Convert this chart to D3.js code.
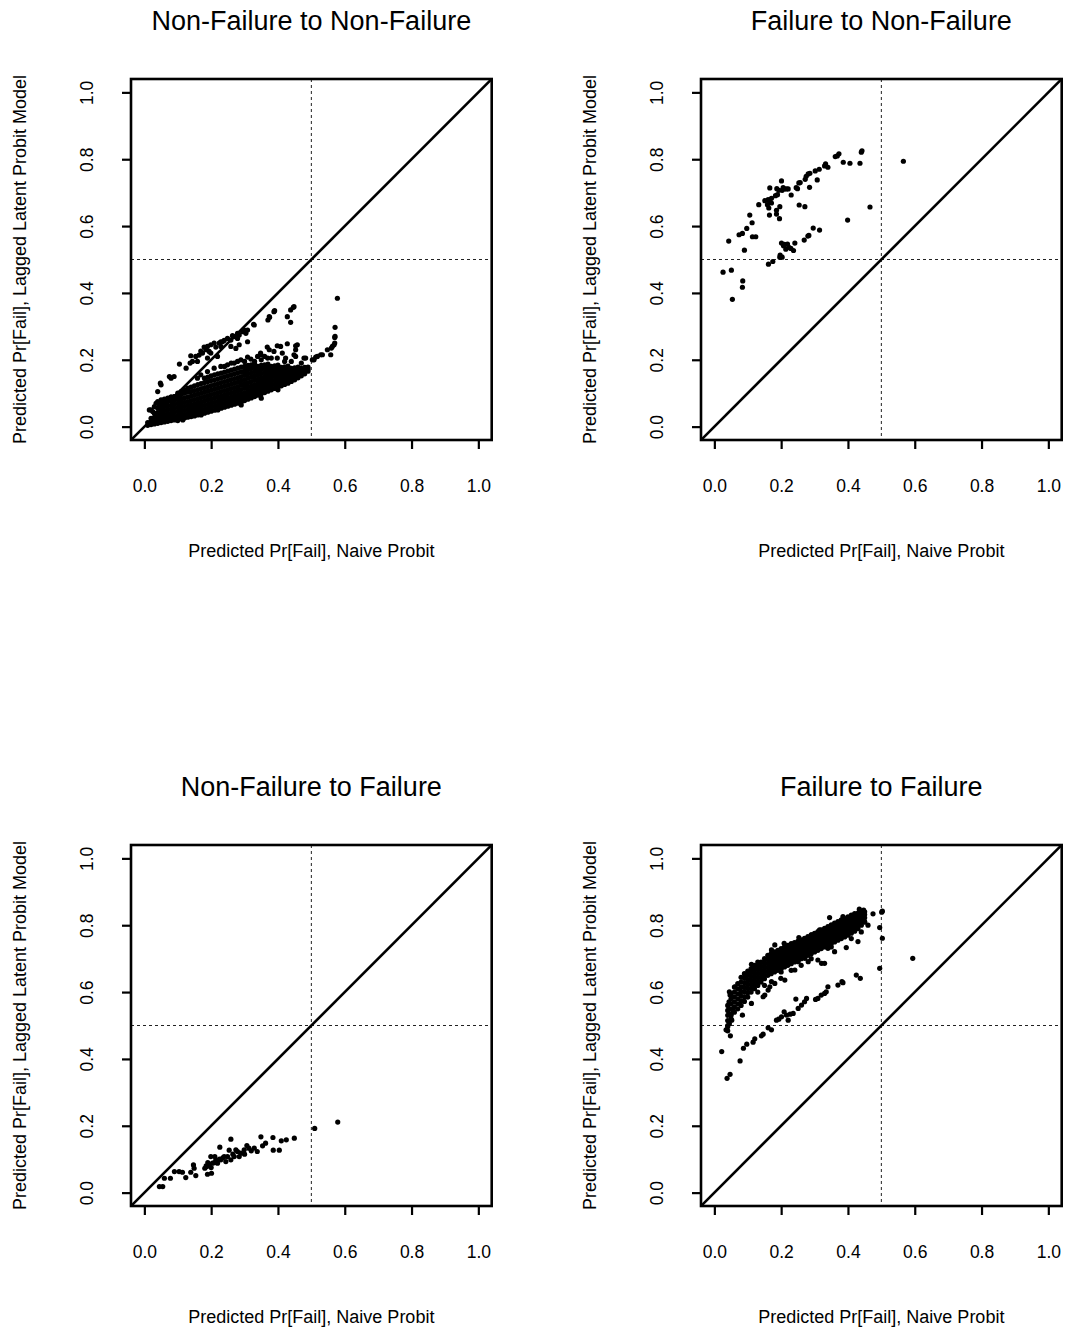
<!DOCTYPE html>
<html><head><meta charset="utf-8">
<script src="https://cdn.jsdelivr.net/npm/d3@7"></script>
<style>body{margin:0;background:#fff} text{font-family:"Liberation Sans", Arial, Helvetica, sans-serif;fill:#000}</style>
</head><body><svg id="c" width="1065" height="1333"></svg>
<script>
// ---------- text ----------
const titles = ["Non-Failure to Non-Failure", "Failure to Non-Failure", "Non-Failure to Failure", "Failure to Failure"];
const tickValues = [0, 0.2, 0.4, 0.6, 0.8, 1.0];
const xLabel = "Predicted Pr[Fail], Naive Probit";
const yLabel = "Predicted Pr[Fail], Lagged Latent Probit Model";
const refLine = 0.5;

// ---------- Panel 1: Non-Failure to Non-Failure ----------
// dense cloud, columns of [naive x, [latent y ...]]
const nfnfCols = [
 [0.01,[0.004,0.012]],
 [0.02,[0.006,0.015,0.025]],
 [0.03,[0.008,0.018,0.028,0.04]],
 [0.04,[0.01,0.02,0.03,0.042,0.055]],
 [0.05,[0.012,0.022,0.033,0.045,0.058,0.068]],
 [0.06,[0.014,0.025,0.036,0.048,0.06,0.072]],
 [0.07,[0.016,0.027,0.038,0.05,0.062,0.075]],
 [0.08,[0.018,0.029,0.04,0.052,0.064,0.077,0.088]],
 [0.09,[0.02,0.031,0.043,0.055,0.067,0.079,0.09]],
 [0.10,[0.022,0.033,0.045,0.057,0.069,0.081,0.093]],
 [0.11,[0.024,0.035,0.047,0.059,0.071,0.083,0.096]],
 [0.12,[0.026,0.037,0.049,0.061,0.073,0.086,0.1]],
 [0.13,[0.028,0.039,0.051,0.063,0.075,0.088,0.103,0.115]],
 [0.14,[0.03,0.041,0.053,0.065,0.078,0.091,0.105,0.118]],
 [0.15,[0.032,0.044,0.056,0.068,0.081,0.094,0.108,0.122]],
 [0.16,[0.035,0.047,0.059,0.071,0.084,0.097,0.111,0.126]],
 [0.17,[0.038,0.05,0.062,0.074,0.087,0.1,0.114,0.129]],
 [0.18,[0.04,0.052,0.064,0.077,0.09,0.103,0.117,0.132,0.145]],
 [0.19,[0.043,0.055,0.067,0.08,0.093,0.106,0.12,0.135,0.148]],
 [0.20,[0.046,0.058,0.07,0.083,0.096,0.109,0.123,0.138,0.152]],
 [0.21,[0.049,0.061,0.073,0.086,0.099,0.112,0.126,0.14,0.155]],
 [0.22,[0.052,0.064,0.076,0.089,0.102,0.115,0.129,0.143,0.158]],
 [0.23,[0.055,0.067,0.079,0.092,0.105,0.118,0.132,0.146,0.16]],
 [0.24,[0.058,0.07,0.082,0.095,0.108,0.121,0.135,0.149,0.163]],
 [0.25,[0.061,0.073,0.085,0.098,0.111,0.124,0.138,0.152,0.166]],
 [0.26,[0.064,0.076,0.088,0.101,0.114,0.127,0.141,0.155,0.169]],
 [0.27,[0.067,0.079,0.091,0.104,0.117,0.13,0.144,0.158,0.172]],
 [0.28,[0.07,0.082,0.094,0.107,0.12,0.133,0.147,0.161,0.175]],
 [0.29,[0.074,0.086,0.098,0.111,0.124,0.137,0.15,0.164,0.178]],
 [0.30,[0.078,0.09,0.102,0.115,0.128,0.141,0.154,0.167,0.18]],
 [0.31,[0.082,0.094,0.106,0.119,0.132,0.145,0.158,0.171,0.183]],
 [0.32,[0.086,0.098,0.11,0.122,0.135,0.148,0.161,0.174,0.185]],
 [0.33,[0.09,0.102,0.114,0.126,0.139,0.152,0.165,0.177,0.188]],
 [0.34,[0.094,0.106,0.118,0.13,0.142,0.155,0.168,0.18]],
 [0.35,[0.098,0.11,0.122,0.134,0.146,0.159,0.171,0.183]],
 [0.36,[0.102,0.114,0.126,0.138,0.15,0.162,0.174,0.185]],
 [0.37,[0.106,0.118,0.13,0.142,0.154,0.166,0.177,0.187]],
 [0.38,[0.11,0.122,0.134,0.146,0.158,0.169,0.18]],
 [0.39,[0.114,0.126,0.138,0.15,0.161,0.172,0.182]],
 [0.40,[0.118,0.13,0.142,0.153,0.164,0.175,0.184]],
 [0.41,[0.122,0.134,0.145,0.156,0.167,0.177]],
 [0.42,[0.126,0.137,0.148,0.159,0.17,0.179]],
 [0.43,[0.13,0.141,0.152,0.162,0.172,0.181]],
 [0.44,[0.135,0.145,0.155,0.165,0.174]],
 [0.45,[0.14,0.15,0.159,0.168,0.176]],
 [0.46,[0.146,0.155,0.163,0.171,0.178]],
 [0.47,[0.152,0.16,0.167,0.174]],
 [0.48,[0.158,0.165,0.171,0.177]],
 [0.49,[0.166,0.172,0.178]]
];
const nfnfPts = [
 [0.578,0.384],[0.571,0.297],[0.571,0.27],[0.568,0.245],[0.56,0.235],[0.558,0.215],[0.548,0.23],[0.533,0.215],[0.518,0.21],[0.508,0.2],[0.483,0.205],[0.563,0.24],[0.57,0.25],[0.57,0.267],[0.503,0.2],[0.513,0.208],[0.528,0.215],[0.478,0.205],[0.483,0.175],
 [0.446,0.357],[0.438,0.349],[0.428,0.329],[0.438,0.312],[0.39,0.347],[0.375,0.327],[0.37,0.319],[0.329,0.304],[0.309,0.289],[0.304,0.279],[0.309,0.254],[0.284,0.274],[0.279,0.264],[0.284,0.245],[0.269,0.269],[0.259,0.259],[0.249,0.264],[0.229,0.254],[0.229,0.24],[0.209,0.25],[0.199,0.245],[0.189,0.24],[0.179,0.238],[0.194,0.225],[0.174,0.22],[0.154,0.21],[0.139,0.212],[0.159,0.195],[0.219,0.21],[0.137,0.19],[0.105,0.187],[0.089,0.15],[0.075,0.15],[0.08,0.145],[0.05,0.125],[0.048,0.13],[0.04,0.105],[0.015,0.05],
 [0.125,0.175],[0.144,0.195],[0.164,0.214],[0.184,0.23],[0.224,0.25],[0.234,0.254],[0.279,0.279],[0.294,0.284],[0.299,0.289],[0.274,0.234],[0.259,0.24],[0.189,0.205],[0.199,0.22],[0.327,0.306],[0.374,0.329],[0.388,0.344],[0.448,0.359],[0.264,0.272],[0.239,0.258],[0.214,0.238],[0.169,0.226],
 [0.428,0.248],[0.453,0.242],[0.453,0.23],[0.398,0.242],[0.368,0.238],[0.388,0.225],[0.348,0.22],[0.413,0.22],[0.453,0.21],[0.423,0.205],[0.408,0.24],[0.374,0.23],[0.349,0.215],[0.369,0.205],[0.398,0.205],[0.448,0.215],[0.458,0.245],
 [0.269,0.19],[0.279,0.195],[0.289,0.2],[0.319,0.202],[0.339,0.21],[0.309,0.208],[0.229,0.18],[0.249,0.185],[0.209,0.175],[0.189,0.165],[0.169,0.155],[0.159,0.145],[0.33,0.195],[0.35,0.2],[0.36,0.21],[0.38,0.205],[0.3,0.195],[0.26,0.19],[0.24,0.18],[0.42,0.195],[0.44,0.195],[0.47,0.19],
 [0.02,0.05],[0.03,0.06],[0.035,0.07],[0.04,0.075],[0.05,0.08],[0.06,0.082],[0.07,0.085],[0.08,0.088],[0.09,0.09],[0.045,0.065],[0.025,0.045],[0.1,0.1],[0.11,0.105],[0.12,0.11],
 [0.22,0.05],[0.115,0.02],[0.17,0.035],[0.1,0.018],[0.29,0.065],[0.35,0.085],[0.4,0.11]
];

// ---------- Panel 2: Failure to Non-Failure ----------
const fnfPts = [
 [0.442,0.825],[0.44,0.821],[0.566,0.794],[0.373,0.816],[0.368,0.81],[0.362,0.808],[0.386,0.791],[0.406,0.788],[0.436,0.788],[0.333,0.786],
 [0.33,0.78],[0.34,0.776],[0.314,0.77],[0.302,0.765],[0.286,0.758],[0.281,0.756],[0.275,0.749],[0.272,0.74],[0.308,0.738],[0.257,0.73],
 [0.253,0.729],[0.285,0.716],[0.245,0.715],[0.249,0.712],[0.201,0.735],[0.216,0.711],[0.209,0.711],[0.203,0.707],[0.193,0.707],[0.187,0.712],
 [0.166,0.714],[0.23,0.693],[0.189,0.694],[0.183,0.691],[0.171,0.683],[0.161,0.679],[0.151,0.676],[0.167,0.671],[0.171,0.669],[0.133,0.664],
 [0.159,0.664],[0.196,0.658],[0.254,0.663],[0.271,0.658],[0.466,0.657],[0.163,0.654],[0.186,0.647],[0.165,0.633],[0.186,0.636],[0.106,0.633],
 [0.195,0.622],[0.113,0.61],[0.399,0.618],[0.097,0.593],[0.296,0.594],[0.315,0.588],[0.084,0.578],[0.074,0.574],[0.283,0.572],[0.114,0.568],
 [0.124,0.568],[0.269,0.558],[0.043,0.555],[0.201,0.549],[0.219,0.546],[0.241,0.549],[0.207,0.541],[0.223,0.536],[0.229,0.533],[0.214,0.531],
 [0.237,0.527],[0.09,0.528],[0.197,0.513],[0.203,0.507],[0.196,0.507],[0.175,0.494],[0.162,0.486],[0.026,0.462],[0.051,0.468],[0.085,0.436],
 [0.084,0.417],[0.054,0.381],[0.221,0.711],[0.206,0.715],[0.28,0.57],[0.21,0.545]
];

// ---------- Panel 3: Non-Failure to Failure ----------
const nffPts = [
 [0.579,0.211],[0.51,0.192],[0.449,0.163],[0.425,0.158],[0.41,0.155],[0.385,0.165],[0.349,0.167],[0.404,0.127],[0.386,0.127],[0.363,0.148],
 [0.354,0.14],[0.338,0.123],[0.329,0.133],[0.313,0.133],[0.307,0.141],[0.299,0.128],[0.289,0.118],[0.279,0.123],[0.274,0.128],[0.269,0.108],
 [0.259,0.16],[0.254,0.127],[0.249,0.108],[0.239,0.108],[0.226,0.136],[0.229,0.098],[0.219,0.088],[0.211,0.108],[0.204,0.088],[0.199,0.108],
 [0.194,0.083],[0.187,0.078],[0.181,0.073],[0.201,0.058],[0.189,0.055],[0.214,0.098],[0.244,0.093],[0.259,0.098],[0.284,0.108],[0.147,0.083],
 [0.149,0.073],[0.154,0.051],[0.139,0.061],[0.124,0.045],[0.114,0.061],[0.104,0.063],[0.09,0.063],[0.078,0.043],[0.06,0.043],[0.055,0.018],
 [0.045,0.018],[0.21,0.09],[0.225,0.1],[0.235,0.104],[0.265,0.115],[0.3,0.115],[0.32,0.125],[0.19,0.09],[0.185,0.08],[0.2,0.075]
];

// ---------- Panel 4: Failure to Failure ----------
const ffCols = [
 [0.04,[0.5,0.515,0.53,0.545,0.56]],
 [0.05,[0.52,0.535,0.55,0.565,0.58,0.595]],
 [0.06,[0.54,0.555,0.57,0.585,0.6,0.615]],
 [0.07,[0.55,0.565,0.58,0.595,0.61,0.625]],
 [0.08,[0.56,0.574,0.588,0.602,0.616,0.63,0.644]],
 [0.09,[0.572,0.586,0.6,0.614,0.628,0.642,0.655]],
 [0.10,[0.585,0.598,0.611,0.624,0.637,0.65,0.663]],
 [0.11,[0.6,0.612,0.624,0.636,0.648,0.66,0.67]],
 [0.12,[0.61,0.622,0.634,0.646,0.658,0.67,0.68]],
 [0.13,[0.62,0.632,0.644,0.656,0.668,0.68,0.69]],
 [0.14,[0.63,0.642,0.654,0.666,0.678,0.69]],
 [0.15,[0.64,0.652,0.664,0.676,0.688,0.7]],
 [0.16,[0.65,0.662,0.674,0.686,0.698,0.71]],
 [0.17,[0.655,0.667,0.679,0.691,0.703,0.715]],
 [0.18,[0.66,0.672,0.684,0.696,0.708,0.72]],
 [0.19,[0.665,0.677,0.689,0.701,0.713,0.725]],
 [0.20,[0.67,0.682,0.694,0.706,0.718,0.73]],
 [0.21,[0.675,0.687,0.699,0.711,0.723,0.735]],
 [0.22,[0.68,0.692,0.704,0.716,0.728,0.74]],
 [0.23,[0.685,0.697,0.709,0.721,0.733,0.745]],
 [0.24,[0.69,0.702,0.714,0.726,0.738,0.748]],
 [0.25,[0.695,0.707,0.719,0.731,0.742,0.752]],
 [0.26,[0.7,0.712,0.724,0.736,0.746,0.756]],
 [0.27,[0.705,0.717,0.729,0.741,0.751,0.761]],
 [0.28,[0.71,0.722,0.734,0.746,0.756,0.766]],
 [0.29,[0.715,0.727,0.739,0.751,0.761,0.771]],
 [0.30,[0.72,0.732,0.744,0.756,0.766,0.776]],
 [0.31,[0.725,0.737,0.749,0.761,0.771,0.781]],
 [0.32,[0.73,0.742,0.754,0.766,0.776,0.786]],
 [0.33,[0.735,0.747,0.759,0.771,0.781,0.791]],
 [0.34,[0.74,0.752,0.764,0.776,0.786,0.796]],
 [0.35,[0.745,0.757,0.769,0.781,0.791,0.801]],
 [0.36,[0.75,0.762,0.774,0.786,0.796,0.806]],
 [0.37,[0.755,0.767,0.779,0.791,0.801,0.811]],
 [0.38,[0.76,0.772,0.784,0.796,0.806,0.816]],
 [0.39,[0.765,0.777,0.789,0.801,0.811,0.82]],
 [0.40,[0.77,0.782,0.794,0.806,0.816,0.825]],
 [0.41,[0.776,0.788,0.8,0.812,0.822,0.83]],
 [0.42,[0.782,0.794,0.806,0.818,0.828,0.835]],
 [0.43,[0.79,0.802,0.814,0.826,0.836]],
 [0.44,[0.8,0.812,0.824,0.834,0.842]],
 [0.45,[0.81,0.822,0.832,0.84]]
];
const ffPts = [
 [0.199,0.641],[0.211,0.636],[0.241,0.666],[0.251,0.691],[0.271,0.701],[0.281,0.691],[0.31,0.696],[0.321,0.686],[0.33,0.686],[0.34,0.731],
 [0.36,0.721],[0.395,0.733],[0.43,0.751],[0.42,0.786],[0.45,0.81],[0.475,0.834],[0.495,0.793],[0.501,0.839],[0.503,0.842],[0.503,0.761],
 [0.495,0.671],[0.594,0.701],[0.425,0.651],[0.437,0.641],[0.385,0.628],[0.37,0.621],[0.171,0.631],[0.161,0.606],[0.151,0.591],[0.146,0.586],
 [0.111,0.566],[0.084,0.531],[0.166,0.616],[0.181,0.626],[0.382,0.631],
 [0.335,0.601],[0.33,0.596],[0.34,0.616],[0.32,0.591],[0.31,0.581],[0.303,0.578],[0.276,0.581],[0.27,0.571],[0.261,0.561],[0.251,0.551],
 [0.244,0.579],[0.236,0.536],[0.227,0.534],[0.216,0.531],[0.209,0.541],[0.201,0.526],[0.193,0.519],[0.186,0.516],[0.221,0.516],[0.171,0.487],
 [0.161,0.493],[0.146,0.474],[0.141,0.469],[0.121,0.46],[0.116,0.45],[0.097,0.444],[0.087,0.432],[0.077,0.394],[0.047,0.354],[0.038,0.342],
 [0.022,0.422],[0.04,0.484],[0.048,0.469],[0.035,0.487],
 [0.045,0.601],[0.047,0.591],[0.062,0.616],[0.044,0.571],[0.05,0.531],[0.057,0.543],[0.052,0.516],[0.045,0.506],[0.04,0.496],
 [0.253,0.763],[0.181,0.741],[0.171,0.726],[0.111,0.683],[0.209,0.746],[0.291,0.771],[0.315,0.786],[0.345,0.823],[0.385,0.826],[0.434,0.848],[0.447,0.845],
 [0.26,0.68],[0.29,0.7],[0.35,0.735],[0.41,0.76],[0.44,0.78],[0.46,0.8],[0.13,0.6],[0.15,0.62],[0.2,0.66],[0.23,0.665]
];

// ---------- drawing ----------
const svg = d3.select("#c");
const flatten = cols => cols.flatMap(([x, ys]) => ys.map(y => [x, y]));

const panels = [
  {title: titles[0], left: 131, top: 79, pts: flatten(nfnfCols).concat(nfnfPts)},
  {title: titles[1], left: 701, top: 79, pts: fnfPts},
  {title: titles[2], left: 131, top: 845, pts: nffPts},
  {title: titles[3], left: 701, top: 845, pts: flatten(ffCols).concat(ffPts)}
];
const W = 360.7, H = 361;
const fmt = d3.format(".1f");

panels.forEach((p, i) => {
  const x = d3.scaleLinear().domain([-0.04, 1.04]).range([p.left, p.left + W]);
  const y = d3.scaleLinear().domain([-0.04, 1.04]).range([p.top + H, p.top]);
  const g = svg.append("g");
  const clipId = "clip" + i;
  g.append("clipPath").attr("id", clipId).append("rect")
    .attr("x", p.left).attr("y", p.top).attr("width", W).attr("height", H);

  // reference lines
  g.append("line").attr("x1", x(refLine)).attr("x2", x(refLine)).attr("y1", p.top).attr("y2", p.top + H)
    .attr("stroke", "#222").attr("stroke-width", 1).attr("stroke-dasharray", "3,3");
  g.append("line").attr("x1", p.left).attr("x2", p.left + W).attr("y1", y(refLine)).attr("y2", y(refLine))
    .attr("stroke", "#222").attr("stroke-width", 1).attr("stroke-dasharray", "3,3");

  // points
  g.append("g").selectAll("circle").data(p.pts).join("circle")
    .attr("cx", d => x(d[0])).attr("cy", d => y(d[1])).attr("r", 2.6).attr("fill", "#000");

  // 45-degree line
  g.append("line").attr("clip-path", `url(#${clipId})`)
    .attr("x1", x(-0.04)).attr("y1", y(-0.04)).attr("x2", x(1.04)).attr("y2", y(1.04))
    .attr("stroke", "#000").attr("stroke-width", 2.6);

  // box
  g.append("rect").attr("x", p.left).attr("y", p.top).attr("width", W).attr("height", H)
    .attr("fill", "none").attr("stroke", "#000").attr("stroke-width", 2.6);

  // x axis
  const xa = g.append("g").attr("transform", `translate(0,${p.top + H})`)
    .call(d3.axisBottom(x).tickValues(tickValues).tickFormat(fmt).tickSize(9));
  xa.select(".domain").remove();
  xa.selectAll(".tick line").attr("stroke", "#000").attr("stroke-width", 2.2);
  xa.selectAll(".tick text").attr("y", 52).attr("dy", null)
    .style("font-size", "17.5px").style("font-family", '"Liberation Sans", Arial, sans-serif').attr("fill", "#000");

  // y axis
  const ya = g.append("g").attr("transform", `translate(${p.left},0)`)
    .call(d3.axisLeft(y).tickValues(tickValues).tickFormat(fmt).tickSize(9));
  ya.select(".domain").remove();
  ya.selectAll(".tick line").attr("stroke", "#000").attr("stroke-width", 2.2);
  ya.selectAll(".tick text").attr("x", null).attr("dy", null)
    .attr("transform", "translate(-38,0) rotate(-90)").attr("text-anchor", "middle")
    .style("font-size", "17.5px").style("font-family", '"Liberation Sans", Arial, sans-serif').attr("fill", "#000");

  // titles and axis labels
  const cx = p.left + W / 2, cy = p.top + H / 2;
  g.append("text").attr("x", cx).attr("y", p.top - 49).attr("text-anchor", "middle")
    .style("font-size", "27px").text(p.title);
  g.append("text").attr("x", cx).attr("y", p.top + H + 117).attr("text-anchor", "middle")
    .style("font-size", "18px").text(xLabel);
  g.append("text").attr("transform", `translate(${p.left - 105},${cy}) rotate(-90)`).attr("text-anchor", "middle")
    .style("font-size", "18px").text(yLabel);
});
</script></body></html>
